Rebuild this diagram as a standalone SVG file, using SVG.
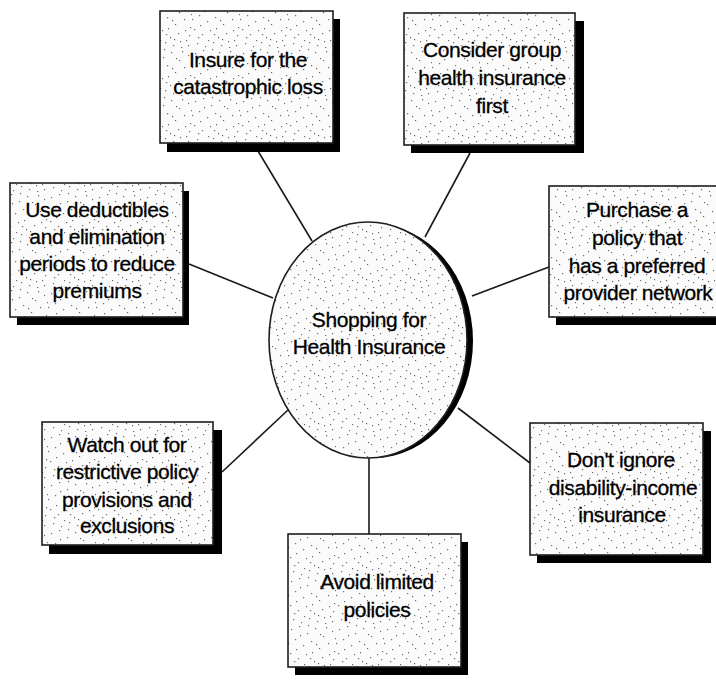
<svg xmlns="http://www.w3.org/2000/svg" width="716" height="686" viewBox="0 0 716 686">
<defs>
<pattern id="stip" width="48" height="48" patternUnits="userSpaceOnUse">
<rect width="48" height="48" fill="#fbfbfb"/>
<g fill="#6a6a6a">
<rect x="3" y="5" width="1.2" height="1.2"/><rect x="11" y="2" width="1.2" height="1.2"/><rect x="19" y="9" width="1.2" height="1.2"/><rect x="27" y="4" width="1.2" height="1.2"/><rect x="35" y="12" width="1.2" height="1.2"/><rect x="44" y="7" width="1.2" height="1.2"/><rect x="7" y="15" width="1.2" height="1.2"/><rect x="15" y="21" width="1.2" height="1.2"/><rect x="23" y="17" width="1.2" height="1.2"/><rect x="31" y="24" width="1.2" height="1.2"/><rect x="40" y="19" width="1.2" height="1.2"/><rect x="46" y="27" width="1.2" height="1.2"/><rect x="2" y="29" width="1.2" height="1.2"/><rect x="10" y="34" width="1.2" height="1.2"/><rect x="18" y="30" width="1.2" height="1.2"/><rect x="26" y="37" width="1.2" height="1.2"/><rect x="34" y="33" width="1.2" height="1.2"/><rect x="42" y="40" width="1.2" height="1.2"/><rect x="5" y="43" width="1.2" height="1.2"/><rect x="13" y="46" width="1.2" height="1.2"/><rect x="21" y="42" width="1.2" height="1.2"/><rect x="29" y="45" width="1.2" height="1.2"/><rect x="37" y="47" width="1.2" height="1.2"/><rect x="45" y="35" width="1.2" height="1.2"/><rect x="8" y="25" width="1.2" height="1.2"/><rect x="38" y="3" width="1.2" height="1.2"/><rect x="24" y="28" width="1.2" height="1.2"/><rect x="16" y="40" width="1.2" height="1.2"/><rect x="32" y="10" width="1.2" height="1.2"/><rect x="0" y="19" width="1.2" height="1.2"/><rect x="47" y="14" width="1" height="1.2"/><rect x="20" y="1" width="1.2" height="1.2"/><rect x="12" y="11" width="1.2" height="1.2"/><rect x="41" y="30" width="1.2" height="1.2"/><rect x="28" y="20" width="1.2" height="1.2"/><rect x="6" y="37" width="1.2" height="1.2"/><rect x="36" y="41" width="1.2" height="1.2"/><rect x="44" y="45" width="1.2" height="1.2"/><rect x="22" y="34" width="1.2" height="1.2"/><rect x="30" y="39" width="1.2" height="1.2"/>
</g>
</pattern>
<style>
.box{fill:url(#stip);stroke:#1e1e1e;stroke-width:1.6}
.shadow{fill:#000}
.lbl{font-family:"Liberation Sans",Arial,sans-serif;font-size:21px;letter-spacing:-0.4px;fill:#000;stroke:#000;stroke-width:0.3;text-anchor:middle}
.conn{stroke:#1a1a1a;stroke-width:1.6;fill:none}
</style>
</defs>
<rect width="716" height="686" fill="#fff"/>
<g id="connectors">
<line class="conn" x1="258" y1="151" x2="312" y2="241"/>
<line class="conn" x1="470" y1="153" x2="425" y2="237"/>
<line class="conn" x1="189" y1="264" x2="273" y2="298"/>
<line class="conn" x1="472" y1="296" x2="549" y2="267"/>
<line class="conn" x1="222" y1="472" x2="288" y2="410"/>
<line class="conn" x1="369" y1="457" x2="369" y2="534"/>
<line class="conn" x1="458" y1="408" x2="530" y2="463"/>
</g>
<g id="center">
<ellipse class="shadow" cx="374" cy="341" rx="99" ry="117"/>
<ellipse class="box" cx="368" cy="340" rx="99" ry="118" stroke-width="2"/>
<text class="lbl"><tspan x="369" y="327">Shopping for</tspan><tspan x="369" y="354">Health Insurance</tspan></text>
</g>
<g id="n1">
<rect class="shadow" x="167" y="19" width="173" height="133"/>
<rect class="box" x="160" y="11" width="173" height="132"/>
<text class="lbl"><tspan x="248" y="67">Insure for the</tspan><tspan x="248" y="94">catastrophic loss</tspan></text>
</g>
<g id="n2">
<rect class="shadow" x="411" y="21" width="173" height="132"/>
<rect class="box" x="404" y="13" width="171" height="132"/>
<text class="lbl"><tspan x="492" y="57">Consider group</tspan><tspan x="492" y="85">health insurance</tspan><tspan x="492" y="113">first</tspan></text>
</g>
<g id="n3">
<rect class="shadow" x="17" y="191" width="172" height="134"/>
<rect class="box" x="10" y="183" width="173" height="134"/>
<text class="lbl"><tspan x="97" y="217">Use deductibles</tspan><tspan x="97" y="244">and elimination</tspan><tspan x="97" y="271">periods to reduce</tspan><tspan x="97" y="298">premiums</tspan></text>
</g>
<g id="n4">
<rect class="shadow" x="556" y="194" width="180" height="131"/>
<rect class="box" x="549" y="186" width="180" height="131"/>
<text class="lbl"><tspan x="637" y="217">Purchase a</tspan><tspan x="637" y="245">policy that</tspan><tspan x="637" y="273">has a preferred</tspan><tspan x="638" y="300">provider network</tspan></text>
</g>
<g id="n5">
<rect class="shadow" x="49" y="430" width="173" height="124"/>
<rect class="box" x="42" y="422" width="171" height="123"/>
<text class="lbl"><tspan x="127" y="452">Watch out for</tspan><tspan x="127" y="479">restrictive policy</tspan><tspan x="127" y="507">provisions and</tspan><tspan x="127" y="533">exclusions</tspan></text>
</g>
<g id="n6">
<rect class="shadow" x="295" y="542" width="173" height="133"/>
<rect class="box" x="288" y="534" width="173" height="133"/>
<text class="lbl"><tspan x="377" y="589">Avoid limited</tspan><tspan x="377" y="617">policies</tspan></text>
</g>
<g id="n7">
<rect class="shadow" x="537" y="431" width="174" height="132"/>
<rect class="box" x="530" y="423" width="173" height="132"/>
<text class="lbl"><tspan x="621" y="467">Don't ignore</tspan><tspan x="623" y="495">disability-income</tspan><tspan x="622" y="522">insurance</tspan></text>
</g>
</svg>
